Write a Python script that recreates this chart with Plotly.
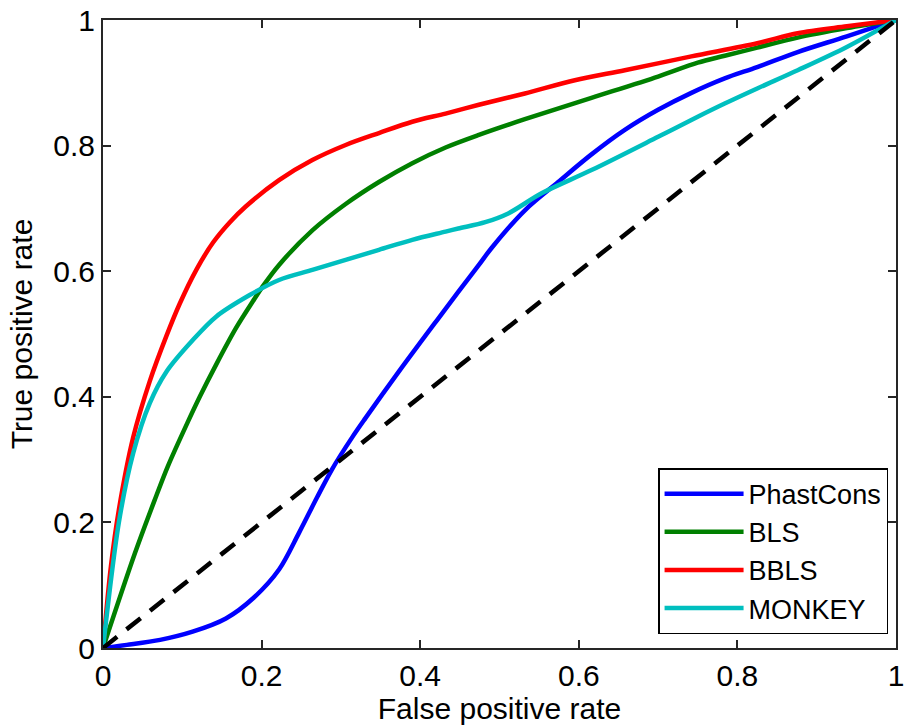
import plotly.graph_objects as go

# PhastCons
phast_x = [0, 0.03, 0.072, 0.113, 0.155, 0.19, 0.222, 0.247, 0.27, 0.289, 0.314, 0.331, 0.373, 0.423,
           0.448, 0.474, 0.49, 0.532, 0.574, 0.616, 0.658, 0.70, 0.742, 0.784, 0.825, 0.876, 0.938, 1]
phast_y = [0, 0.005, 0.013, 0.026, 0.047, 0.08, 0.125, 0.183, 0.24, 0.285, 0.335, 0.366, 0.44, 0.525,
           0.567, 0.61, 0.637, 0.697, 0.742, 0.786, 0.825, 0.857, 0.884, 0.907, 0.925, 0.949, 0.974, 1]

# BLS
bls_x = [0, 0.04, 0.065, 0.082, 0.107, 0.122, 0.143, 0.168, 0.189, 0.201, 0.222, 0.264, 0.306, 0.348,
         0.390, 0.432, 0.474, 0.532, 0.616, 0.70, 0.75, 0.784, 0.825, 0.876, 0.938, 1]
bls_y = [0, 0.15, 0.235, 0.29, 0.36, 0.40, 0.452, 0.51, 0.552, 0.575, 0.610, 0.665, 0.707, 0.742,
         0.772, 0.797, 0.817, 0.842, 0.876, 0.91, 0.932, 0.943, 0.956, 0.972, 0.987, 1]

# BBLS
bbls_x = [0, 0.01, 0.02, 0.038, 0.059, 0.08, 0.097, 0.118, 0.139, 0.160, 0.180, 0.222, 0.264, 0.306,
          0.348, 0.390, 0.432, 0.474, 0.532, 0.595, 0.658, 0.742, 0.825, 0.876, 0.938, 1]
bbls_y = [0, 0.13, 0.22, 0.335, 0.425, 0.497, 0.549, 0.603, 0.646, 0.678, 0.703, 0.745, 0.777, 0.801,
          0.820, 0.838, 0.851, 0.865, 0.883, 0.904, 0.920, 0.942, 0.963, 0.979, 0.99, 1]

# MONKEY
monkey_x = [0, 0.02, 0.038, 0.059, 0.08, 0.113, 0.143, 0.185, 0.222, 0.264, 0.306, 0.348,
            0.390, 0.432, 0.448, 0.482, 0.511, 0.553, 0.616, 0.70, 0.75, 0.784, 0.825, 0.876, 0.938, 1]
monkey_y = [0, 0.2, 0.31, 0.39, 0.44, 0.49, 0.528, 0.562, 0.586, 0.602, 0.618, 0.634,
            0.650, 0.663, 0.668, 0.678, 0.692, 0.724, 0.761, 0.814, 0.846, 0.867, 0.891, 0.920, 0.957, 1]

# chance diagonal
diag_x = [0, 1]
diag_y = [0, 1]

tick_vals = [0, 0.2, 0.4, 0.6, 0.8, 1]
tick_text = ["0", "0.2", "0.4", "0.6", "0.8", "1"]

FONT = "Liberation Sans, Arial, sans-serif"

fig = go.Figure()
for xs, ys, name, color in [(phast_x, phast_y, "PhastCons", "#0000FF"),
                            (bls_x, bls_y, "BLS", "#008000"),
                            (bbls_x, bbls_y, "BBLS", "#FF0000"),
                            (monkey_x, monkey_y, "MONKEY", "#00BFBF")]:
    fig.add_trace(go.Scatter(x=xs, y=ys, mode="lines", name=name,
                             line=dict(color=color, width=4.5, shape="spline", smoothing=0.9)))
fig.add_trace(go.Scatter(x=diag_x, y=diag_y, mode="lines", showlegend=False,
                         line=dict(color="black", width=4.5, dash="18px,12px")))

axis_common = dict(
    range=[0, 1], tickvals=tick_vals, ticktext=tick_text,
    showline=True, linecolor="#262626", linewidth=2, mirror="ticks",
    ticks="inside", ticklen=8, tickwidth=1.5, tickcolor="#262626",
    showgrid=False, zeroline=False, automargin=False,
    ticklabeloverflow="allow",
    tickfont=dict(family=FONT, size=30, color="black"),
)

fig.update_layout(
    width=905, height=725,
    margin=dict(l=103, r=9, t=20, b=77),
    paper_bgcolor="white", plot_bgcolor="white",
    font=dict(family=FONT, size=30, color="black"),
    xaxis=dict(**axis_common,
               title=dict(text="False positive rate", font=dict(family=FONT, size=30), standoff=0)),
    yaxis=dict(**axis_common,
               title=dict(text="True positive rate", font=dict(family=FONT, size=30), standoff=12)),
    legend=dict(x=0.99, y=0.022, xanchor="right", yanchor="bottom",
                bgcolor="white", bordercolor="black", borderwidth=1.5,
                font=dict(family=FONT, size=27, color="black"),
                itemwidth=79, tracegroupgap=0),
    showlegend=True,
)

fig.write_html("out.html")
